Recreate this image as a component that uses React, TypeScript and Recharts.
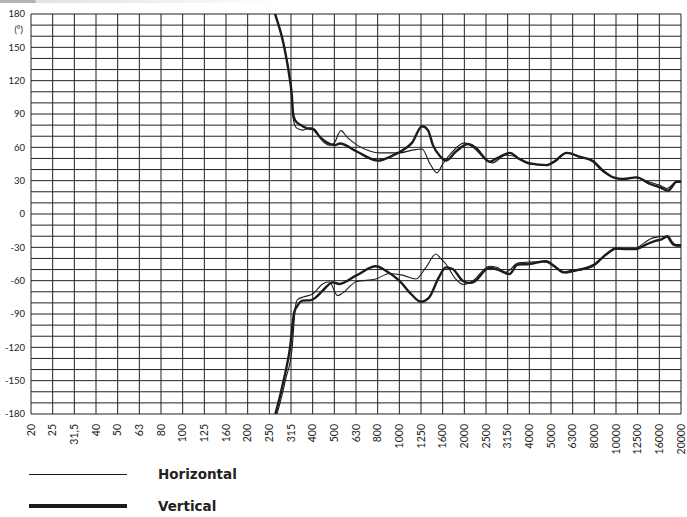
import { LineChart, Line, XAxis, YAxis, CartesianGrid } from 'recharts';

// 1/3-octave band labels, one grid column each
const bands = [
  '20', '25', '31,5', '40', '50', '63', '80', '100', '125', '160', '200', '250', '315', '400', '500',
  '630', '800', '1000', '1250', '1600', '2000', '2500', '3150', '4000', '5000', '6300', '8000',
  '10000', '12500', '16000', '20000',
];

const degreeLabels = [180, 150, 120, 90, 60, 30, 0, -30, -60, -90, -120, -150, -180];
const degreeGrid = Array.from({ length: 37 }, (_, k) => 180 - k * 10);

// band = fractional band number (0 = 20 Hz), deg = phase in degrees
const horizontalTop = [
  { band: 11.0, deg: 198 }, { band: 11.21, deg: 184 }, { band: 11.65, deg: 154 }, { band: 11.88, deg: 130 },
  { band: 12.03, deg: 106 }, { band: 12.1, deg: 86 }, { band: 12.25, deg: 77.5 }, { band: 12.55, deg: 75.5 },
  { band: 12.88, deg: 77.5 }, { band: 13.1, deg: 76 }, { band: 13.4, deg: 67 }, { band: 13.8, deg: 62 },
  { band: 14.0, deg: 64 }, { band: 14.3, deg: 75 }, { band: 14.6, deg: 69 }, { band: 15.05, deg: 62 },
  { band: 15.6, deg: 57 }, { band: 16.1, deg: 55 }, { band: 16.6, deg: 55 }, { band: 17.0, deg: 55 },
  { band: 17.6, deg: 57.5 }, { band: 18.05, deg: 58.5 }, { band: 18.42, deg: 45 }, { band: 18.74, deg: 37 },
  { band: 19.0, deg: 45 }, { band: 19.4, deg: 55 }, { band: 20.0, deg: 64 }, { band: 20.4, deg: 60 },
  { band: 21.0, deg: 49 }, { band: 21.3, deg: 46 }, { band: 21.9, deg: 53 }, { band: 22.3, deg: 52 },
  { band: 23.0, deg: 45 }, { band: 23.7, deg: 44 }, { band: 24.2, deg: 47 }, { band: 24.7, deg: 55 },
  { band: 25.3, deg: 52 }, { band: 25.9, deg: 47.5 }, { band: 26.4, deg: 38 }, { band: 26.9, deg: 33 },
  { band: 27.4, deg: 31.5 }, { band: 27.9, deg: 33 }, { band: 28.5, deg: 29 }, { band: 29.0, deg: 26 },
  { band: 29.35, deg: 23 }, { band: 29.75, deg: 28.5 }, { band: 30.0, deg: 29 },
];

const verticalTop = [
  { band: 11.0, deg: 198 }, { band: 11.21, deg: 183.6 }, { band: 11.65, deg: 153.6 }, { band: 11.88, deg: 129.6 },
  { band: 12.03, deg: 108.6 }, { band: 12.1, deg: 90 }, { band: 12.2, deg: 84 }, { band: 12.45, deg: 80 },
  { band: 12.75, deg: 77 }, { band: 13.0, deg: 76.5 }, { band: 13.35, deg: 69 }, { band: 14.03, deg: 62 },
  { band: 14.26, deg: 63.5 }, { band: 15.05, deg: 56 }, { band: 16.02, deg: 48 }, { band: 16.57, deg: 51.5 },
  { band: 17.17, deg: 57.5 }, { band: 17.58, deg: 64 }, { band: 18.05, deg: 79 }, { band: 18.32, deg: 75.5 },
  { band: 18.55, deg: 62 }, { band: 18.88, deg: 52 }, { band: 19.15, deg: 48 }, { band: 19.6, deg: 56 },
  { band: 20.17, deg: 63 }, { band: 20.5, deg: 60 }, { band: 21.18, deg: 47 }, { band: 21.5, deg: 50 },
  { band: 22.1, deg: 55 }, { band: 22.5, deg: 50 }, { band: 23.03, deg: 45.5 }, { band: 23.8, deg: 44 },
  { band: 24.2, deg: 48 }, { band: 24.72, deg: 55 }, { band: 25.34, deg: 51.5 }, { band: 25.95, deg: 47.5 },
  { band: 26.4, deg: 39 }, { band: 26.87, deg: 33 }, { band: 27.33, deg: 31.5 }, { band: 27.95, deg: 33 },
  { band: 28.57, deg: 27 }, { band: 29.03, deg: 24 }, { band: 29.4, deg: 21 }, { band: 29.8, deg: 29 },
  { band: 30.0, deg: 29 },
];

const horizontalBottom = [
  { band: 11.0, deg: -196 }, { band: 11.35, deg: -180 }, { band: 11.75, deg: -149 }, { band: 12.05, deg: -121 },
  { band: 12.2, deg: -84 }, { band: 12.3, deg: -77 }, { band: 12.6, deg: -74.5 }, { band: 13.0, deg: -72 },
  { band: 13.46, deg: -63 }, { band: 13.77, deg: -61 }, { band: 14.15, deg: -73.5 }, { band: 14.4, deg: -71 },
  { band: 15.0, deg: -61 }, { band: 15.92, deg: -58.5 }, { band: 16.54, deg: -53.5 }, { band: 17.15, deg: -55 },
  { band: 17.77, deg: -58.5 }, { band: 18.23, deg: -48 }, { band: 18.69, deg: -36 }, { band: 18.9, deg: -40 },
  { band: 19.15, deg: -45 }, { band: 19.6, deg: -58.5 }, { band: 19.95, deg: -63.5 }, { band: 20.4, deg: -60 },
  { band: 21.15, deg: -47 }, { band: 21.5, deg: -48 }, { band: 21.9, deg: -52.5 }, { band: 22.5, deg: -44 },
  { band: 23.46, deg: -43 }, { band: 23.92, deg: -44 }, { band: 24.7, deg: -53 }, { band: 25.3, deg: -50.5 },
  { band: 25.92, deg: -47.5 }, { band: 26.54, deg: -36.5 }, { band: 27.0, deg: -31.5 }, { band: 27.5, deg: -32 },
  { band: 27.92, deg: -31 }, { band: 28.3, deg: -26 }, { band: 28.7, deg: -21.5 }, { band: 29.3, deg: -20 },
  { band: 29.6, deg: -27.5 }, { band: 29.8, deg: -29 }, { band: 30.0, deg: -29 },
];

const verticalBottom = [
  { band: 11.0, deg: -198 }, { band: 11.28, deg: -180 }, { band: 11.67, deg: -149 }, { band: 11.95, deg: -121 },
  { band: 12.15, deg: -88.5 }, { band: 12.3, deg: -82.5 }, { band: 12.54, deg: -78 }, { band: 12.92, deg: -77.5 },
  { band: 13.15, deg: -75 }, { band: 13.46, deg: -69 }, { band: 13.92, deg: -61.5 }, { band: 14.23, deg: -63 },
  { band: 15.0, deg: -55.5 }, { band: 15.92, deg: -47 }, { band: 16.38, deg: -51 }, { band: 17.0, deg: -60 },
  { band: 17.54, deg: -72 }, { band: 18.0, deg: -79 }, { band: 18.38, deg: -75 }, { band: 18.8, deg: -58 },
  { band: 19.15, deg: -48 }, { band: 19.46, deg: -49.5 }, { band: 19.92, deg: -60 }, { band: 20.2, deg: -62 },
  { band: 20.4, deg: -61.5 }, { band: 21.15, deg: -48.5 }, { band: 21.54, deg: -50 }, { band: 22.08, deg: -54 },
  { band: 22.46, deg: -45.5 }, { band: 23.0, deg: -45 }, { band: 23.77, deg: -42.5 }, { band: 24.15, deg: -47 },
  { band: 24.6, deg: -52.5 }, { band: 25.0, deg: -51 }, { band: 25.46, deg: -49.5 }, { band: 26.0, deg: -45.5 },
  { band: 26.54, deg: -36.5 }, { band: 27.0, deg: -31 }, { band: 27.46, deg: -31.5 }, { band: 27.92, deg: -31.5 },
  { band: 28.38, deg: -27.5 }, { band: 28.85, deg: -24 }, { band: 29.08, deg: -23 }, { band: 29.38, deg: -20 },
  { band: 29.6, deg: -26 }, { band: 29.77, deg: -28 }, { band: 30.0, deg: -28 },
];

const legendItems = [
  { name: 'Horizontal', width: 1.2 },
  { name: 'Vertical', width: 4.2 },
];

const INK = '#1c1c1c';
const TICK_FONT = 'Lato, "Open Sans", sans-serif';

function BandTick({ x, y, payload }: any) {
  return (
    <text
      x={x}
      y={y}
      transform={`rotate(-90, ${x}, ${y})`}
      textAnchor="end"
      dy="0.36em"
      fontSize={10.5}
      fontFamily={TICK_FONT}
      fill="#222"
    >
      {bands[payload.value]}
    </text>
  );
}

function DegreeTick({ y, payload }: any) {
  const v = payload.value;
  return (
    <g>
      {degreeLabels.includes(v) && (
        <text x={25} y={y} dy="0.35em" textAnchor="end" fontSize={9.5} fontFamily={TICK_FONT} fill="#222">
          {v}
        </text>
      )}
      {v === 170 && (
        <text x={23} y={y} dy="0.85em" textAnchor="end" fontSize={9} fontFamily={TICK_FONT} fill="#222">
          (°)
        </text>
      )}
    </g>
  );
}

export default function App() {
  const bandTicks = bands.map((_, i) => i);
  return (
    <div style={{ position: 'absolute', left: 0, top: 0, width: 687, height: 517, background: '#fff' }}>
      <div
        style={{
          position: 'absolute',
          left: 0,
          top: 0,
          width: 280,
          height: 3,
          background: 'linear-gradient(to right, #b4b4b4 0px, #b4b4b4 35px, #e2e2e2 36px, #f4f4f4 200px, #ffffff 280px)',
        }}
      />
      <LineChart width={687} height={470} margin={{ top: 14, right: 6, bottom: 0, left: 0 }}>
        <CartesianGrid stroke="#222" strokeWidth={1} />
        <XAxis
          type="number"
          dataKey="band"
          domain={[0, 30]}
          ticks={bandTicks}
          interval={0}
          tick={<BandTick />}
          tickLine={false}
          axisLine={false}
          tickMargin={4}
          height={56}
          allowDuplicatedCategory={false}
        />
        <YAxis
          type="number"
          dataKey="deg"
          domain={[-180, 180]}
          ticks={degreeGrid}
          interval={0}
          allowDataOverflow
          tick={<DegreeTick />}
          tickLine={false}
          axisLine={false}
          width={31}
        />
        <Line data={horizontalTop} dataKey="deg" type="monotone" stroke={INK} strokeWidth={1.1} dot={false} isAnimationActive={false} />
        <Line data={horizontalBottom} dataKey="deg" type="monotone" stroke={INK} strokeWidth={1.1} dot={false} isAnimationActive={false} />
        <Line data={verticalTop} dataKey="deg" type="monotone" stroke={INK} strokeWidth={2.4} dot={false} isAnimationActive={false} />
        <Line data={verticalBottom} dataKey="deg" type="monotone" stroke={INK} strokeWidth={2.4} dot={false} isAnimationActive={false} />
      </LineChart>
      <svg width={687} height={57} style={{ position: 'absolute', left: 0, top: 460 }}>
        {legendItems.map((item, k) => (
          <g key={item.name}>
            <line x1={29} x2={127} y1={14.5 + k * 31.5} y2={14.5 + k * 31.5} stroke={INK} strokeWidth={item.width} />
            <text
              x={158}
              y={14.5 + k * 31.5}
              dy="0.36em"
              fontFamily='"DejaVu Sans", sans-serif'
              fontWeight="bold"
              fontSize={13.5}
              fill="#222"
            >
              {item.name}
            </text>
          </g>
        ))}
      </svg>
    </div>
  );
}
